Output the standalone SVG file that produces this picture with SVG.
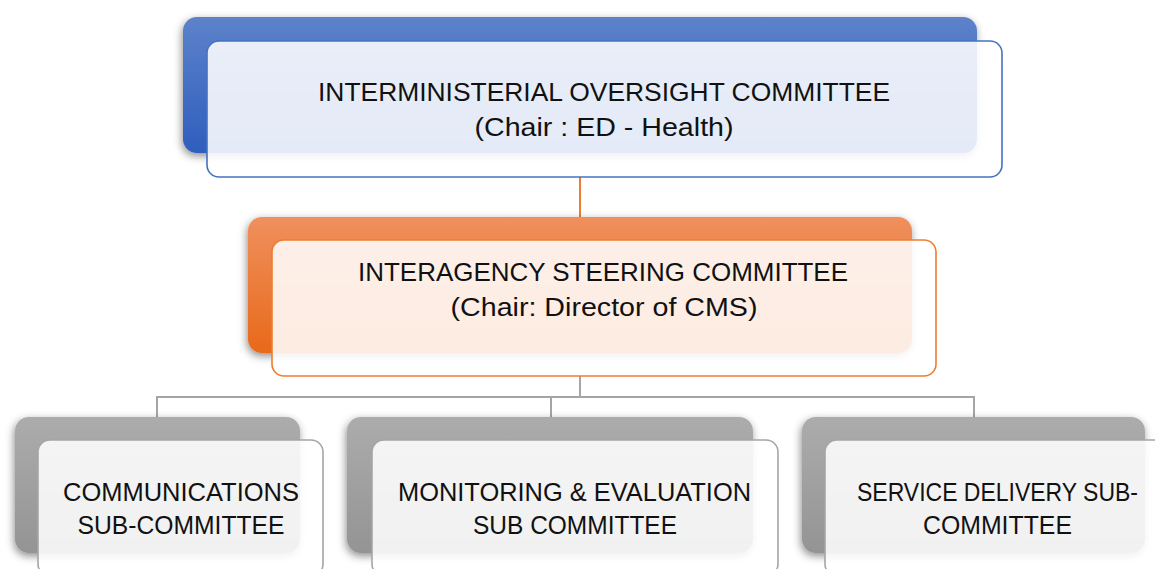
<svg xmlns="http://www.w3.org/2000/svg" width="1155" height="569" viewBox="0 0 1155 569">
  <defs>
    <linearGradient id="gBlue" x1="0" y1="0" x2="0" y2="1">
      <stop offset="0" stop-color="#5D82CA"/>
      <stop offset="1" stop-color="#2F5EBD"/>
    </linearGradient>
    <linearGradient id="gOrange" x1="0" y1="0" x2="0" y2="1">
      <stop offset="0" stop-color="#F0905E"/>
      <stop offset="1" stop-color="#E8691A"/>
    </linearGradient>
    <linearGradient id="gGray" x1="0" y1="0" x2="0" y2="1">
      <stop offset="0" stop-color="#ACACAC"/>
      <stop offset="1" stop-color="#949494"/>
    </linearGradient>
    <filter id="shadow" x="-10%" y="-20%" width="120%" height="150%">
      <feDropShadow dx="-1" dy="3" stdDeviation="4" flood-color="#000" flood-opacity="0.45"/>
    </filter>
  </defs>
  <style>
    .front { fill: #FFFFFF; fill-opacity: 0.87; stroke-width: 1.6; }
    .blue { stroke: #4472C4; }
    .orange { stroke: #ED7D31; }
    .gray { stroke: #A5A5A5; }
    .back { filter: url(#shadow); }
    .label { font-family: "Liberation Sans", Arial, sans-serif; fill: #111111; text-anchor: middle; }
    .big { font-size: 26px; }
    .small { font-size: 25px; }
    .conn { fill: none; stroke-width: 2; }
  </style>
  <rect width="1155" height="569" fill="#FFFFFF"/>

  <g id="connectors">
    <line class="conn" x1="580" y1="177" x2="580" y2="218" stroke="#ED7D31"/>
    <path class="conn" d="M580 376 V397 M157 418 V397 H974 V418 M551 397 V418" stroke="#A5A5A5"/>
  </g>

  <g id="oversight">
    <rect class="back" x="183" y="17" width="794" height="136" rx="14" fill="url(#gBlue)"/>
    <rect class="front blue" x="207" y="41" width="795" height="136" rx="12"/>
    <text class="label big" x="604" y="101" textLength="572" lengthAdjust="spacingAndGlyphs">INTERMINISTERIAL OVERSIGHT COMMITTEE</text>
    <text class="label big" x="604" y="136" textLength="259" lengthAdjust="spacingAndGlyphs">(Chair : ED - Health)</text>
  </g>

  <g id="steering">
    <rect class="back" x="248" y="217" width="664" height="136" rx="14" fill="url(#gOrange)"/>
    <rect class="front orange" x="272" y="240" width="664" height="136" rx="12"/>
    <text class="label big" x="603" y="281" textLength="490" lengthAdjust="spacingAndGlyphs">INTERAGENCY STEERING COMMITTEE</text>
    <text class="label big" x="604" y="316" textLength="307" lengthAdjust="spacingAndGlyphs">(Chair: Director of CMS)</text>
  </g>

  <g id="communications">
    <rect class="back" x="15" y="417" width="285" height="136" rx="14" fill="url(#gGray)"/>
    <rect class="front gray" x="38" y="440" width="285" height="136" rx="12"/>
    <text class="label small" x="181" y="501" textLength="236" lengthAdjust="spacingAndGlyphs">COMMUNICATIONS</text>
    <text class="label small" x="181" y="534" textLength="207" lengthAdjust="spacingAndGlyphs">SUB-COMMITTEE</text>
  </g>

  <g id="monitoring">
    <rect class="back" x="347" y="417" width="406" height="136" rx="14" fill="url(#gGray)"/>
    <rect class="front gray" x="372" y="440" width="406" height="136" rx="12"/>
    <text class="label small" x="574.5" y="501" textLength="353" lengthAdjust="spacingAndGlyphs">MONITORING &amp; EVALUATION</text>
    <text class="label small" x="575" y="534" textLength="204" lengthAdjust="spacingAndGlyphs">SUB COMMITTEE</text>
  </g>

  <g id="service">
    <rect class="back" x="802" y="417" width="343" height="136" rx="14" fill="url(#gGray)"/>
    <rect class="front gray" x="825" y="440" width="345" height="136" rx="12"/>
    <text class="label small" x="997.5" y="501" textLength="281" lengthAdjust="spacingAndGlyphs">SERVICE DELIVERY SUB-</text>
    <text class="label small" x="997.5" y="534" textLength="149" lengthAdjust="spacingAndGlyphs">COMMITTEE</text>
  </g>
</svg>
